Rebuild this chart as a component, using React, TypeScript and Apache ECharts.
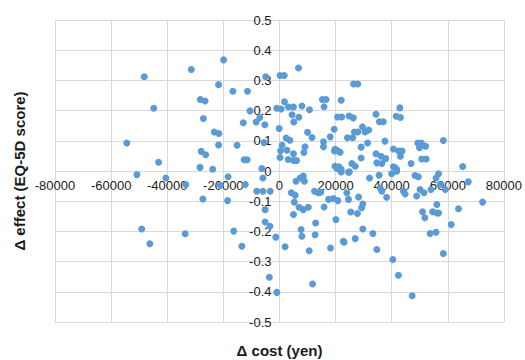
import React, { useEffect, useRef } from "react";
import * as echarts from "echarts";

const xTicks = { min: -80000, max: 80000, interval: 20000 };
const yTicks = { min: -0.5, max: 0.5, interval: 0.1 };
const xAxisTitle = "Δ cost (yen)";
const yAxisTitle = "Δ effect (EQ-5D score)";

// Δ cost (yen), Δ effect (EQ-5D score)
const upperLeft: number[][] = [
  [-48200, 0.312], [-31400, 0.336], [-19900, 0.368], [-44800, 0.208], [-54400, 0.093],
  [-43100, 0.029], [-21700, 0.286], [-16600, 0.264], [-11400, 0.264], [-28200, 0.237],
  [-26500, 0.232], [-27100, 0.174], [-23200, 0.129], [-21600, 0.124], [-21700, 0.086],
  [-27900, 0.065], [-26300, 0.054], [-28300, 0.012], [-23800, 0.006], [-15100, 0.085],
  [-12900, 0.16], [-12600, 0.037], [-11500, 0.037], [-10500, 0.199], [-8300, 0.162],
  [-7000, 0.177], [-5200, 0.153], [-5500, 0.094], [-4900, 0.312], [-6300, 0.008],
  [-950, 0.208], [-100, 0.141],
];

const upperRight: number[][] = [
  [200, 0.316], [1700, 0.316], [6800, 0.341], [600, 0.205], [1800, 0.229],
  [3200, 0.212], [5000, 0.212], [8000, 0.215], [10700, 0.203], [4500, 0.186],
  [6900, 0.178], [5100, 0.162], [2400, 0.109], [3700, 0.102], [10000, 0.128],
  [11600, 0.111], [950, 0.085], [9100, 0.08], [400, 0.067], [200, 0.045],
  [2700, 0.069], [8700, 0.061], [5000, 0.057], [3100, 0.038], [5000, 0.035],
  [6100, 0.035], [15700, 0.097], [15700, 0.08], [18100, 0.113], [15300, 0.237],
  [16600, 0.237], [15900, 0.213], [22000, 0.234], [20700, 0.179], [22200, 0.179],
  [24800, 0.182], [26300, 0.176], [19500, 0.138], [26400, 0.288], [27900, 0.288],
  [34400, 0.188], [35600, 0.163], [37000, 0.163], [42900, 0.209], [41600, 0.181],
  [43100, 0.177], [29600, 0.146], [31800, 0.136], [30500, 0.129], [27900, 0.129],
  [26700, 0.129], [24200, 0.11], [26100, 0.11], [31400, 0.093], [29100, 0.079],
  [37600, 0.099], [40600, 0.073], [42500, 0.066], [43700, 0.066], [43100, 0.049],
  [49300, 0.093], [50600, 0.093], [49900, 0.077], [52100, 0.082], [58400, 0.101],
  [34400, 0.057], [36200, 0.049], [37900, 0.041], [29100, 0.043], [34700, 0.027],
  [36500, 0.025], [46900, 0.025], [50700, 0.04], [52300, 0.04], [65300, 0.015],
  [25800, 0.025], [27000, 0.016], [40600, 0.014], [41800, 0.005], [41200, 0.011],
  [19800, 0.016], [21200, 0.014], [20500, 0.008], [22000, 0.006], [19600, 0.066],
  [20600, 0.068], [21600, 0.062], [19800, 0.072],
];

const lowerLeft: number[][] = [
  [-50800, -0.012], [-40500, -0.023], [-33400, -0.045], [-18300, -0.019], [-18500, -0.098],
  [-21100, -0.047], [-27300, -0.093], [-49100, -0.192], [-46200, -0.241], [-33600, -0.208],
  [-12200, -0.045], [-5900, -0.023], [-8100, -0.067], [-5900, -0.067], [-3300, -0.067],
  [-5100, -0.128], [-5100, -0.169], [-3400, -0.183], [-1300, -0.219], [-16300, -0.199],
  [-13400, -0.249], [-3600, -0.352], [-950, -0.402],
];

const lowerRight: number[][] = [
  [2000, -0.251], [5900, -0.034], [7400, -0.023], [8500, -0.017], [8900, -0.034],
  [4200, -0.072], [5600, -0.08], [5300, -0.103], [7000, -0.12], [8500, -0.128],
  [10300, -0.12], [5000, -0.144], [7700, -0.194], [8000, -0.216], [12900, -0.172],
  [12700, -0.211], [10600, -0.264], [11800, -0.374], [13900, -0.072], [12500, -0.067],
  [14700, -0.07], [15900, -0.119], [17500, -0.094], [19200, -0.091], [20800, -0.098],
  [20100, -0.161], [18200, -0.255], [22800, -0.233], [22000, -0.003], [24900, -0.003],
  [24600, -0.004], [24000, -0.072], [24600, -0.094], [28200, -0.086], [29700, -0.109],
  [29300, -0.122], [25400, -0.136], [27800, -0.141], [29700, -0.192], [33300, -0.207],
  [27000, -0.224], [23000, -0.236], [34700, -0.26], [40400, -0.293], [42400, -0.345],
  [47300, -0.413], [32100, -0.023], [35500, -0.014], [40000, -0.009], [41800, -0.001],
  [38200, -0.087], [36500, -0.067], [35900, -0.056], [44800, -0.076], [44200, -0.067],
  [48900, -0.083], [50100, -0.061], [51500, -0.072], [48300, -0.015], [49500, -0.019],
  [54000, -0.061], [56700, -0.009], [55800, -0.023], [57200, -0.045], [59100, -0.061],
  [56100, -0.111], [54600, -0.135], [56100, -0.139], [56700, -0.139], [51000, -0.135],
  [51800, -0.155], [63800, -0.125], [61200, -0.177], [53700, -0.207], [55800, -0.203],
  [58400, -0.273], [72400, -0.103], [67300, -0.036],
];

const allPoints = [...upperLeft, ...upperRight, ...lowerLeft, ...lowerRight];

const GRID = { left: 55, right: 21, top: 20, bottom: 38 };
const W = 525;
const H = 360;

export default function App() {
  const ref = useRef<HTMLDivElement>(null);
  useEffect(() => {
    if (!ref.current) return;
    const chart = echarts.init(ref.current, undefined, { renderer: "svg" });
    const gridColor = "#d9d9d9";
    const labelStyle = {
      color: "#1a1a1a",
      fontSize: 13,
      fontFamily: "Liberation Sans, Arial, sans-serif",
    };
    const plotW = W - GRID.left - GRID.right;
    const plotH = H - GRID.top - GRID.bottom;
    // distance from the bottom/left edge to the zero lines
    const zeroFromBottom = ((0 - yTicks.min) / (yTicks.max - yTicks.min)) * plotH;
    const zeroFromLeft = ((0 - xTicks.min) / (xTicks.max - xTicks.min)) * plotW;
    chart.setOption({
      animation: false,
      backgroundColor: "#ffffff",
      grid: { ...GRID, containLabel: false },
      xAxis: {
        type: "value",
        min: xTicks.min,
        max: xTicks.max,
        interval: xTicks.interval,
        axisLine: { show: false },
        axisTick: { show: false },
        axisLabel: {
          ...labelStyle,
          margin: 8 - zeroFromBottom,
          hideOverlap: false,
          formatter: (v: number) => String(Math.round(v)),
        },
        splitLine: { show: true, lineStyle: { color: gridColor, width: 1 } },
      },
      yAxis: {
        type: "value",
        min: yTicks.min,
        max: yTicks.max,
        interval: yTicks.interval,
        axisLine: { show: false },
        axisTick: { show: false },
        axisLabel: {
          ...labelStyle,
          margin: 8 - zeroFromLeft,
          hideOverlap: false,
          formatter: (v: number) => {
            const r = Math.round(v * 10) / 10;
            return r === 0 ? "0" : String(r);
          },
        },
        splitLine: { show: true, lineStyle: { color: gridColor, width: 1 } },
      },
      graphic: [
        {
          type: "text",
          x: 279.5,
          y: 350,
          style: {
            text: xAxisTitle,
            fill: "#1a1a1a",
            font: "bold 15px Liberation Sans, Arial, sans-serif",
            textAlign: "center",
            textVerticalAlign: "middle",
          },
        },
        {
          type: "text",
          x: 19,
          y: 171,
          rotation: Math.PI / 2,
          style: {
            text: yAxisTitle,
            fill: "#1a1a1a",
            font: "bold 15px Liberation Sans, Arial, sans-serif",
            textAlign: "center",
            textVerticalAlign: "middle",
          },
        },
      ],
      series: [
        {
          type: "scatter",
          data: allPoints,
          symbol: "circle",
          symbolSize: 7,
          itemStyle: { color: "#5b9bd5", opacity: 1 },
          z: 3,
        },
      ],
    });
    return () => chart.dispose();
  }, []);
  return <div ref={ref} style={{ width: W, height: H, position: "absolute", left: 0, top: 0 }} />;
}
